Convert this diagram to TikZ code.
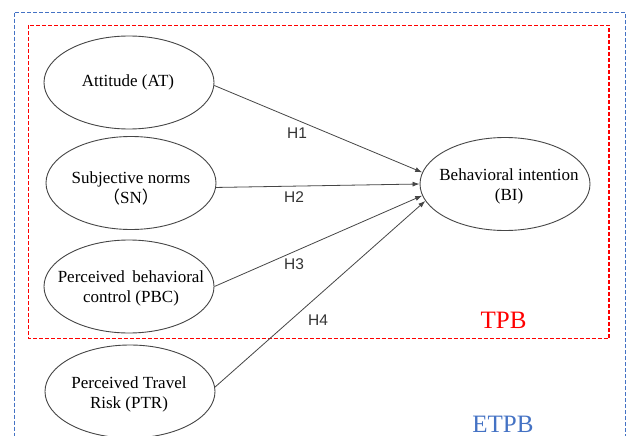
\documentclass[tikz,border=0pt]{standalone}
\usepackage{fontspec}
\setmainfont{Liberation Serif}
\newfontfamily\hfont{Liberation Sans}
\newfontfamily\cjk{Noto Sans CJK SC}
\usetikzlibrary{shapes.geometric,arrows.meta}
\definecolor{boxred}{RGB}{255,0,0}
\definecolor{boxblue}{RGB}{68,114,196}
\definecolor{edgegray}{RGB}{70,70,70}
\tikzset{
  construct/.style={ellipse, draw=edgegray, line width=0.9pt, minimum width=170pt, minimum height=93pt,
    inner sep=0pt},
  ctext/.style={align=center, inner sep=0pt, font=\fontsize{17}{20}\selectfont},
  hyp/.style={draw=edgegray, line width=0.8pt, -{Latex[length=7pt,width=5pt]}},
  hlabel/.style={font=\hfont\fontsize{15.5}{18}\selectfont, text=black!80, inner sep=0pt},
  redbox/.style={draw=boxred, line width=1.1pt, dash pattern=on 4pt off 2pt},
  bluebox/.style={draw=boxblue, line width=1.1pt, dash pattern=on 4pt off 2pt},
  bigtag/.style={font=\fontsize{25}{28}\selectfont, inner sep=0pt}
}
\begin{document}
\begin{tikzpicture}[x=1pt,y=-1pt]
\useasboundingbox (0,0) rectangle (627,436);
\clip (0,0) rectangle (627,436);
\fill[white] (0,0) rectangle (627,436);
% frames
\draw[bluebox] (14.7,12.7) rectangle (625.5,460);
\draw[redbox] (28.7,25.3) rectangle (609,338.5);
% constructs
\node[construct] (AT) at (129,82.5) {};
\node[construct] (SN) at (131,183) {};
\node[construct] (PBC) at (129,286.5) {};
\node[construct] (PTR) at (130,391.5) {};
\node[construct] (BI) at (505,184) {};
\node[ctext] (ATt) at (128,82) {Attitude (AT)};
\node[ctext] (SNt) at (131,188) {Subjective norms\\{\cjk （}SN{\cjk ）}};
\node[ctext] (PBCt) at (131,288) {Perceived\hspace{0.45em}behavioral\\control (PBC)};
\node[ctext] (PTRt) at (129,394) {Perceived Travel\\Risk (PTR)};
\node[ctext] (BIt) at (509,186) {Behavioral intention\\(BI)};
% hypotheses
\draw[hyp] (AT.-2) -- (BI.172);
\draw[hyp] (SN.-3) -- (BI.180);
\draw[hyp] (PBC.east) -- (BI.188);
\draw[hyp] (PTR.3) -- (BI.192);
\node[hlabel] (h1) at (297,133) {H1};
\node[hlabel] (h2) at (294,197) {H2};
\node[hlabel] (h3) at (294,264) {H3};
\node[hlabel] (h4) at (318,320) {H4};
% tags
\node[bigtag, text=boxred] (tpb) at (503.5,320) {TPB};
\node[bigtag, text=boxblue] (etpb) at (503,424) {ETPB};
\end{tikzpicture}
\end{document}
